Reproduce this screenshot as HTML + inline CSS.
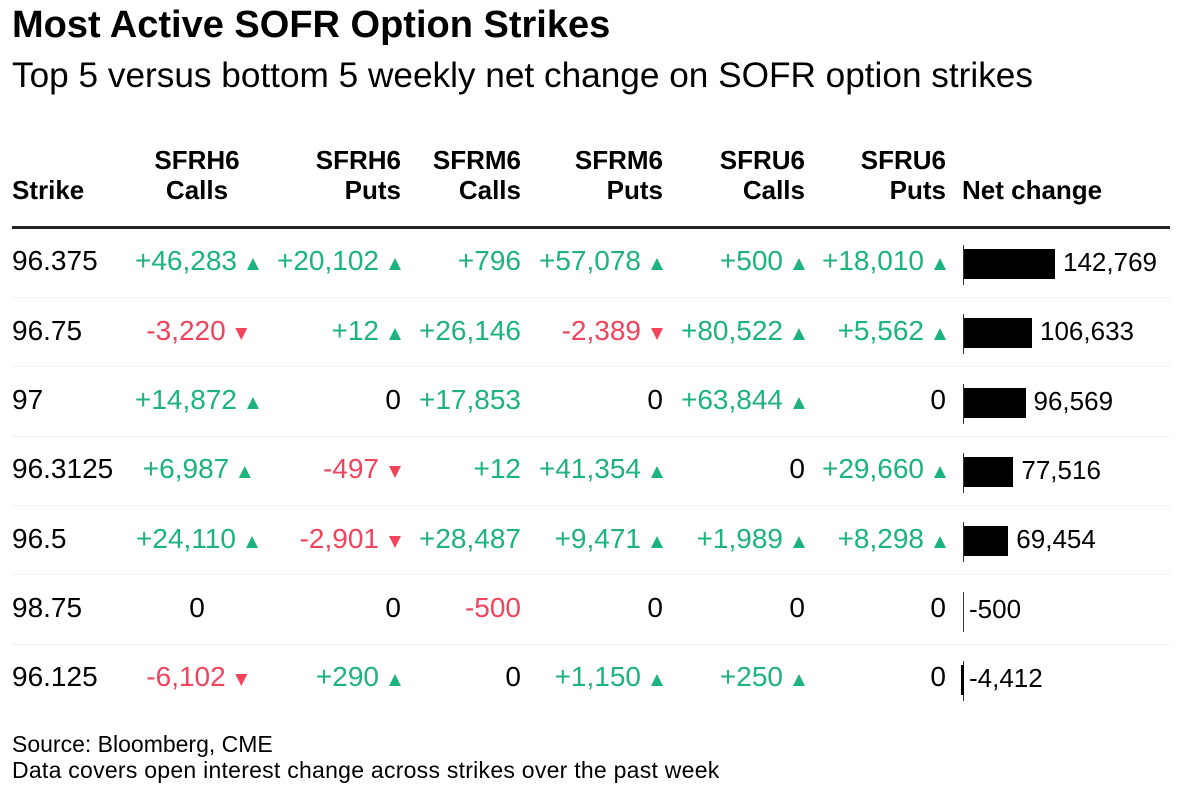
<!DOCTYPE html>
<html><head><meta charset="utf-8"><style>
html,body{margin:0;padding:0;background:#fff}
body{width:1188px;height:789px;position:relative;overflow:hidden;font-family:"Liberation Sans",Arial,sans-serif;color:#000}
.a{position:absolute;white-space:nowrap}
.t{left:12px;top:5.8px;font-size:38px;line-height:38px;font-weight:bold}
.s{left:12px;top:58.4px;font-size:35.2px;line-height:35px}
.h{font-size:26px;line-height:26px;font-weight:bold}
.d{font-size:28px;line-height:28px}
.v{font-size:26px;line-height:26px}
.g{color:#1db37c}.r{color:#f2435d}
.u{display:inline-block;width:0;height:0;border-left:6.5px solid transparent;border-right:6.5px solid transparent;border-bottom:12px solid #1db37c;margin-left:10px}
.n{display:inline-block;width:0;height:0;border-left:6px solid transparent;border-right:6px solid transparent;border-top:12px solid #f2435d;margin-left:10px}
.c{left:197px;transform:translateX(-50%)}
.sep{position:absolute;left:12px;width:1158px;height:1px;background:#efefef}
.ax{position:absolute;left:962.5px;width:1.5px;height:40px;background:#333}
.bar{position:absolute;height:30px;background:#000}
.f{left:12px;font-size:23px;line-height:23px}
</style></head><body>
<div class="a t">Most Active SOFR Option Strikes</div>
<div class="a s">Top 5 versus bottom 5 weekly net change on SOFR option strikes</div>

<!-- headers -->
<div class="a h" style="left:12px;top:177px">Strike</div>
<div class="a h c" style="top:147px">SFRH6</div>
<div class="a h c" style="top:177px">Calls</div>
<div class="a h" style="right:787px;top:147px">SFRH6</div>
<div class="a h" style="right:787px;top:177px">Puts</div>
<div class="a h" style="right:667px;top:147px">SFRM6</div>
<div class="a h" style="right:667px;top:177px">Calls</div>
<div class="a h" style="right:525px;top:147px">SFRM6</div>
<div class="a h" style="right:525px;top:177px">Puts</div>
<div class="a h" style="right:383px;top:147px">SFRU6</div>
<div class="a h" style="right:383px;top:177px">Calls</div>
<div class="a h" style="right:242px;top:147px">SFRU6</div>
<div class="a h" style="right:242px;top:177px">Puts</div>
<div class="a h" style="left:962px;top:177px">Net change</div>

<div class="a" style="left:12px;top:226px;width:1158px;height:3px;background:#222"></div>

<!-- separators -->
<div class="sep" style="top:297px"></div>
<div class="sep" style="top:366px"></div>
<div class="sep" style="top:435.6px"></div>
<div class="sep" style="top:505px"></div>
<div class="sep" style="top:574px"></div>
<div class="sep" style="top:643.5px"></div>

<!-- row 0 -->
<div class="a d" style="left:12px;top:247.3px">96.375</div>
<div class="a d c g" style="top:247.3px">+46,283<span class="u"></span></div>
<div class="a d g" style="right:787px;top:247.3px">+20,102<span class="u"></span></div>
<div class="a d g" style="right:667px;top:247.3px">+796</div>
<div class="a d g" style="right:525px;top:247.3px">+57,078<span class="u"></span></div>
<div class="a d g" style="right:383px;top:247.3px">+500<span class="u"></span></div>
<div class="a d g" style="right:242px;top:247.3px">+18,010<span class="u"></span></div>
<div class="ax" style="top:245px"></div>
<div class="bar" style="left:964px;top:249px;width:91px"></div>
<div class="a v" style="left:1063px;top:249px">142,769</div>

<!-- row 1 -->
<div class="a d" style="left:12px;top:316.6px">96.75</div>
<div class="a d c r" style="top:316.6px">-3,220<span class="n"></span></div>
<div class="a d g" style="right:787px;top:316.6px">+12<span class="u"></span></div>
<div class="a d g" style="right:667px;top:316.6px">+26,146</div>
<div class="a d r" style="right:525px;top:316.6px">-2,389<span class="n"></span></div>
<div class="a d g" style="right:383px;top:316.6px">+80,522<span class="u"></span></div>
<div class="a d g" style="right:242px;top:316.6px">+5,562<span class="u"></span></div>
<div class="ax" style="top:314.3px"></div>
<div class="bar" style="left:964px;top:318.3px;width:68px"></div>
<div class="a v" style="left:1040px;top:318.3px">106,633</div>

<!-- row 2 -->
<div class="a d" style="left:12px;top:385.9px">97</div>
<div class="a d c g" style="top:385.9px">+14,872<span class="u"></span></div>
<div class="a d" style="right:787px;top:385.9px">0</div>
<div class="a d g" style="right:667px;top:385.9px">+17,853</div>
<div class="a d" style="right:525px;top:385.9px">0</div>
<div class="a d g" style="right:383px;top:385.9px">+63,844<span class="u"></span></div>
<div class="a d" style="right:242px;top:385.9px">0</div>
<div class="ax" style="top:383.6px"></div>
<div class="bar" style="left:964px;top:387.6px;width:61.5px"></div>
<div class="a v" style="left:1033.5px;top:387.6px">96,569</div>

<!-- row 3 -->
<div class="a d" style="left:12px;top:455.2px">96.3125</div>
<div class="a d c g" style="top:455.2px">+6,987<span class="u"></span></div>
<div class="a d r" style="right:787px;top:455.2px">-497<span class="n"></span></div>
<div class="a d g" style="right:667px;top:455.2px">+12</div>
<div class="a d g" style="right:525px;top:455.2px">+41,354<span class="u"></span></div>
<div class="a d" style="right:383px;top:455.2px">0</div>
<div class="a d g" style="right:242px;top:455.2px">+29,660<span class="u"></span></div>
<div class="ax" style="top:452.9px"></div>
<div class="bar" style="left:964px;top:456.9px;width:49.4px"></div>
<div class="a v" style="left:1021.4px;top:456.9px">77,516</div>

<!-- row 4 -->
<div class="a d" style="left:12px;top:524.5px">96.5</div>
<div class="a d c g" style="top:524.5px">+24,110<span class="u"></span></div>
<div class="a d r" style="right:787px;top:524.5px">-2,901<span class="n"></span></div>
<div class="a d g" style="right:667px;top:524.5px">+28,487</div>
<div class="a d g" style="right:525px;top:524.5px">+9,471<span class="u"></span></div>
<div class="a d g" style="right:383px;top:524.5px">+1,989<span class="u"></span></div>
<div class="a d g" style="right:242px;top:524.5px">+8,298<span class="u"></span></div>
<div class="ax" style="top:522.2px"></div>
<div class="bar" style="left:964px;top:526.2px;width:44.3px"></div>
<div class="a v" style="left:1016.3px;top:526.2px">69,454</div>

<!-- row 5 -->
<div class="a d" style="left:12px;top:593.8px">98.75</div>
<div class="a d c" style="top:593.8px">0</div>
<div class="a d" style="right:787px;top:593.8px">0</div>
<div class="a d r" style="right:667px;top:593.8px">-500</div>
<div class="a d" style="right:525px;top:593.8px">0</div>
<div class="a d" style="right:383px;top:593.8px">0</div>
<div class="a d" style="right:242px;top:593.8px">0</div>
<div class="ax" style="top:591.5px"></div>
<div class="a v" style="left:969px;top:595.5px">-500</div>

<!-- row 6 -->
<div class="a d" style="left:12px;top:663.1px">96.125</div>
<div class="a d c r" style="top:663.1px">-6,102<span class="n"></span></div>
<div class="a d g" style="right:787px;top:663.1px">+290<span class="u"></span></div>
<div class="a d" style="right:667px;top:663.1px">0</div>
<div class="a d g" style="right:525px;top:663.1px">+1,150<span class="u"></span></div>
<div class="a d g" style="right:383px;top:663.1px">+250<span class="u"></span></div>
<div class="a d" style="right:242px;top:663.1px">0</div>
<div class="ax" style="top:660.8px"></div>
<div class="bar" style="left:961.2px;top:664.8px;width:2.8px"></div>
<div class="a v" style="left:969px;top:664.8px">-4,412</div>

<!-- footer -->
<div class="a f" style="top:732.5px">Source: Bloomberg, CME</div>
<div class="a f" style="top:758.5px;letter-spacing:0.26px">Data covers open interest change across strikes over the past week</div>
</body></html>
